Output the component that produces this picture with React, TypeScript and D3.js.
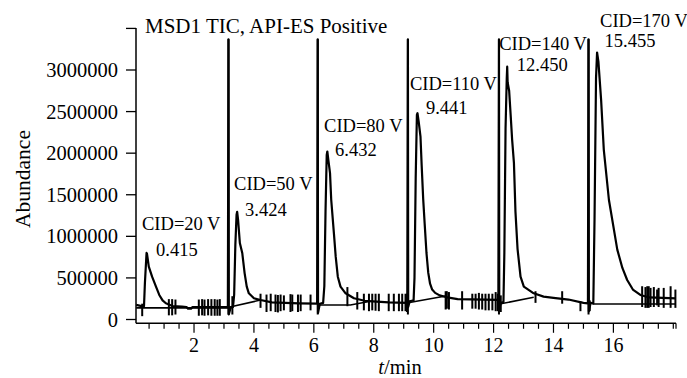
import React from 'react';
import * as d3 from 'd3';

const W = 687;
const H = 378;

// TIC trace (time in min, abundance in thousands)
const traceT = [
  0.07, 0.25, 0.33, 0.36, 0.40, 0.415, 0.43, 0.49, 0.60, 0.73, 0.84, 0.95, 1.06, 1.28, 1.6, 1.75, 1.80, 1.90, 1.95, 2.9, 3.13, 3.15, 3.16,
  3.22, 3.30, 3.34, 3.38, 3.42, 3.44, 3.47, 3.53, 3.61, 3.69, 3.76, 3.83, 4.00, 4.22, 4.6, 5.5, 6.11, 6.13, 6.14,
  6.20, 6.31, 6.35, 6.39, 6.43, 6.45, 6.49, 6.54, 6.58, 6.67, 6.73, 6.80, 6.89, 7.06, 7.34, 7.7, 8.5, 9.12, 9.14, 9.15,
  9.20, 9.33, 9.36, 9.40, 9.44, 9.46, 9.50, 9.56, 9.60, 9.65, 9.70, 9.76, 9.82, 9.88, 9.95, 10.05, 10.2, 10.4, 10.8, 12.16, 12.18, 12.19,
  12.24, 12.33, 12.36, 12.40, 12.44, 12.455, 12.47, 12.52, 12.58, 12.62, 12.68, 12.73, 12.80, 12.90, 13.01, 13.34, 13.67, 14.0, 14.5, 15.0, 15.15, 15.17, 15.18,
  15.24, 15.33, 15.37, 15.42, 15.455, 15.50, 15.59, 15.68, 15.85, 16.13, 16.3, 16.46, 16.65, 16.9, 17.2, 18.09,
];
const traceV = [
  175, 160, 160, 435, 700, 800, 790, 635, 515, 395, 295, 230, 195, 162, 155, 150, 130, 130, 150, 150, 150, 3370, 60,
  140, 150, 300, 900, 1260, 1295, 1200, 920, 800, 555, 395, 315, 255, 234, 205, 195, 190, 3370, 80,
  190, 200, 400, 1300, 1980, 2020, 1900, 1760, 1440, 1035, 755, 515, 395, 315, 255, 225, 205, 200, 3370, 150,
  220, 230, 500, 1700, 2460, 2480, 2380, 2200, 1850, 1450, 1150, 800, 560, 430, 360, 320, 290, 270, 245, 235, 3370, 120,
  200, 210, 800, 2300, 2900, 3040, 2850, 2750, 2400, 2160, 1880, 1300, 850, 515, 395, 315, 275, 260, 240, 200, 195, 3370, 100,
  200, 195, 1200, 2900, 3210, 3100, 2640, 2040, 1440, 840, 620, 475, 360, 295, 265, 255,
];

// noise spikes on the trace (time, high, low in thousands)
const noiseT = [0.27, 1.16, 1.27, 1.38, 2.16, 2.27, 2.35, 2.47, 2.58, 2.69, 2.78, 2.86,
  3.28, 4.22, 4.42, 4.56, 4.72, 4.80, 4.89, 5.00, 5.22, 5.28, 5.47, 5.56, 5.89,
  7.12, 7.45, 7.67, 7.84, 7.95, 8.06, 8.17, 8.50, 8.67, 8.84, 8.95, 9.06, 9.11,
  10.40, 10.44, 10.51, 10.95, 11.29, 11.40, 11.51, 11.62, 11.73, 11.84, 11.96, 12.07, 12.14,
  12.24, 13.40, 14.29, 14.90,
  15.21, 16.96, 17.07, 17.13, 17.18, 17.24, 17.35, 17.46, 17.51, 17.68, 17.91, 18.07];
const noiseHi = [190, 245, 245, 240, 240, 245, 240, 245, 245, 245, 240, 245,
  280, 310, 300, 310, 300, 295, 300, 290, 305, 300, 300, 300, 300,
  390, 330, 310, 310, 310, 310, 310, 310, 310, 310, 310, 310, 310,
  340, 340, 330, 340, 310, 310, 320, 310, 310, 310, 310, 330, 310,
  290, 340, 340, 220,
  230, 400, 390, 400, 400, 380, 390, 360, 380, 380, 400, 360];
const noiseLo = [40, 50, 50, 60, 45, 50, 45, 50, 45, 45, 45, 45,
  60, 140, 90, 100, 90, 85, 100, 110, 90, 100, 90, 100, 110,
  160, 120, 110, 100, 110, 105, 100, 100, 100, 100, 100, 100, 90,
  120, 130, 120, 120, 130, 130, 120, 120, 110, 110, 110, 100, 100,
  90, 200, 190, 100,
  100, 150, 140, 140, 140, 150, 150, 170, 150, 140, 140, 140];

// integration baselines
const integ1 = [[0.07, 140], [3.16, 140]];
const integ2 = [[3.16, 147], [4.22, 234]];
const integ3 = [[6.15, 174], [7.22, 174], [7.8, 214]];
const integ4 = [[9.15, 202], [10.4, 283]];
const integ5 = [[12.2, 186], [13.34, 267]];
const integ6 = [[15.3, 186], [18.09, 186]];
const integLines = [integ1, integ2, integ3, integ4, integ5, integ6];

// segment switch times
const boundaryT = [3.15, 6.13, 9.14, 12.18, 15.17];
const boundaryTop = 3370;

// annotations
const cidLabels = ['CID=20 V', 'CID=50 V', 'CID=80 V', 'CID=110 V', 'CID=140 V', 'CID=170 V'];
const peakRT = [0.415, 3.424, 6.432, 9.441, 12.45, 15.455];
const peakLabels = ['0.415', '3.424', '6.432', '9.441', '12.450', '15.455'];
const peakHeights = [800, 1295, 2020, 2480, 3040, 3210];
const rtDx = [9.5, 8.4, 8.3, 9, 9.7, 7.5];
const rtDy = [3, 4.5, 4, 1, 4.5, -6];
const cidDx = [-14, -11, -11, -16, -17.5, -4.5];
const cidDy = [-26, -26, -24, -24.5, -21, -19.5];

const xMajor = [2, 4, 6, 8, 10, 12, 14, 16];
const xMinor = d3.range(0.5, 18.01, 0.5);
const yTicks = [0, 500000, 1000000, 1500000, 2000000, 2500000, 3000000, 3500000];
const yLabelled = [0, 500000, 1000000, 1500000, 2000000, 2500000, 3000000];

const FONT = "'Liberation Serif', 'Times New Roman', serif";

export default function App() {
  const x = d3.scaleLinear().domain([0.063, 18.09]).range([136, 676]);
  const y = d3.scaleLinear().domain([0, 3505000]).range([319.5, 28]);
  const axisY = 323.3;

  const line = d3
    .line<[number, number]>()
    .x((d) => x(d[0]))
    .y((d) => y(d[1] * 1000));

  const trace: [number, number][] = traceT.map((t, i) => [t, traceV[i]]);

  return (
    <svg
      width={W}
      height={H}
      style={{ position: 'absolute', left: 0, top: 0, background: '#fff' }}
      fontFamily={FONT}
    >
      <rect x={0} y={0} width={W} height={H} fill="#fff" />
      {/* title */}
      <text x={145} y={32.5} fontSize={21} fill="#000">
        MSD1 TIC, API-ES Positive
      </text>

      {/* y axis */}
      <line x1={136} x2={136} y1={y(3505000)} y2={axisY} stroke="#000" strokeWidth={1.5} />
      {yTicks.map((v) => (
        <line key={'yt' + v} x1={126} x2={136} y1={y(v)} y2={y(v)} stroke="#000" strokeWidth={1.3} />
      ))}
      {yLabelled.map((v) => (
        <text key={'yl' + v} x={118} y={y(v) + 7} fontSize={20.5} textAnchor="end" fill="#000">
          {v}
        </text>
      ))}
      <text
        transform={`translate(30,179) rotate(-90)`}
        fontSize={21.5}
        textAnchor="middle"
        fill="#000"
      >
        Abundance
      </text>

      {/* x axis */}
      <line x1={136} x2={676} y1={axisY} y2={axisY} stroke="#000" strokeWidth={1.5} />
      {xMinor.map((t) => (
        <line
          key={'xm' + t}
          x1={x(t)}
          x2={x(t)}
          y1={axisY}
          y2={axisY + (xMajor.includes(t) ? 9.5 : 5.5)}
          stroke="#000"
          strokeWidth={1.2}
        />
      ))}
      <line x1={676} x2={676} y1={axisY} y2={axisY + 5.5} stroke="#000" strokeWidth={1.2} />
      {xMajor.map((t) => (
        <text key={'xl' + t} x={x(t)} y={352} fontSize={20} textAnchor="middle" fill="#000">
          {t}
        </text>
      ))}
      <text x={400} y={373.5} fontSize={20.5} textAnchor="middle" fill="#000">
        <tspan fontStyle="italic">t</tspan>/min
      </text>

      {/* integration baselines */}
      {integLines.map((seg, i) => (
        <path key={'ig' + i} d={line(seg as [number, number][]) || ''} fill="none" stroke="#000" strokeWidth={1.6} />
      ))}

      {/* segment switch lines */}
      {boundaryT.map((t) => (
        <line
          key={'b' + t}
          x1={x(t)}
          x2={x(t)}
          y1={y(boundaryTop * 1000)}
          y2={y(60000)}
          stroke="#000"
          strokeWidth={2}
        />
      ))}

      {/* trace */}
      <path d={line(trace) || ''} fill="none" stroke="#000" strokeWidth={2.2} strokeLinejoin="round" />

      {/* noise spikes */}
      {noiseT.map((t, i) => (
        <line
          key={'n' + i}
          x1={x(t)}
          x2={x(t)}
          y1={y(noiseHi[i] * 1000)}
          y2={y(noiseLo[i] * 1000)}
          stroke="#000"
          strokeWidth={2}
        />
      ))}

      {/* annotations */}
      {peakRT.map((t, i) => {
        const px = x(t) + rtDx[i];
        const py = y(peakHeights[i] * 1000) + rtDy[i];
        return (
          <g key={'a' + i}>
            <text x={px} y={py} fontSize={18.5} fill="#000">
              {peakLabels[i]}
            </text>
            <text x={px + cidDx[i]} y={py + cidDy[i]} fontSize={18.5} fill="#000">
              {cidLabels[i]}
            </text>
          </g>
        );
      })}
    </svg>
  );
}
